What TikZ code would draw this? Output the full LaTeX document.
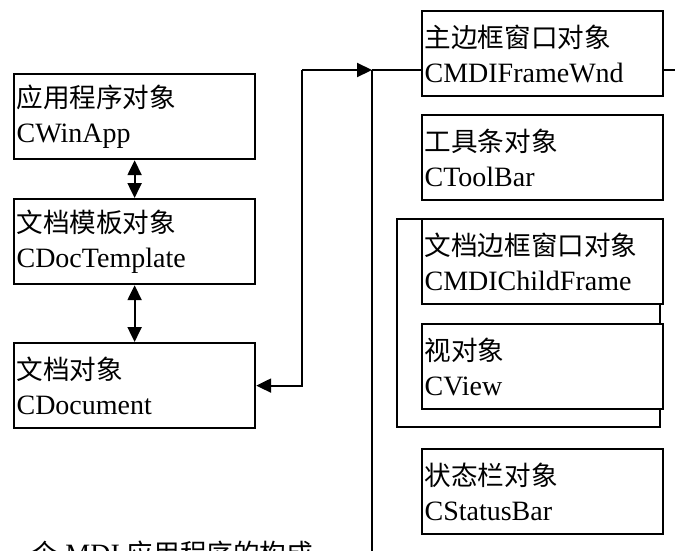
\documentclass[tikz,border=0pt]{standalone}
\usepackage{fontspec}
\setmainfont{Liberation Serif}
\newfontfamily\cjk{Noto Sans CJK SC}[Scale=0.95]
\usetikzlibrary{arrows.meta}
\tikzset{
  objbox/.style={draw, line width=2.2pt, fill=white, minimum width=241pt, minimum height=85pt,
    inner sep=0pt, text width=236pt, align=left, font=\fontsize{28}{35}\selectfont, anchor=north west},
  conn/.style={line width=2.2pt},
  tri/.style={-{Triangle[length=15pt,width=14pt]}},
  bitri/.style={{Triangle[length=15pt,width=14pt]}-{Triangle[length=15pt,width=14pt]}},
}
\begin{document}
\begin{tikzpicture}[x=1pt,y=-1pt]
\useasboundingbox (0,0) rectangle (675,550);
\clip (0,0) rectangle (675,550);
% left column
\node[objbox] (app) at (13,73) {{\cjk 应用程序对象}\\CWinApp};
\node[objbox] (tpl) at (13,198) {{\cjk 文档模板对象}\\CDocTemplate};
\node[objbox] (doc) at (13,342) {{\cjk 文档对象}\\CDocument};
% right column
\draw[line width=1.4pt] (397,219) rectangle (660,427);
\node[objbox] (frame) at (421,10) {{\cjk 主边框窗口对象}\\CMDIFrameWnd};
\node[objbox] (tool) at (421,114) {{\cjk 工具条对象}\\CToolBar};
\node[objbox] (child) at (421,218) {{\cjk 文档边框窗口对象}\\CMDIChildFrame};
\node[objbox] (view) at (421,323) {{\cjk 视对象}\\CView};
\node[objbox] (status) at (421,448) {{\cjk 状态栏对象}\\CStatusBar};
% connectors
\coordinate (j1) at (302,70);
\coordinate (bus) at (372,70);
\coordinate (busend) at (372,552);
\coordinate (rightend) at (676,70);
\draw[conn,bitri] (app.south) -- (tpl.north);
\draw[conn,bitri] (tpl.south) -- (doc.north);
\draw[conn,tri] (j1) |- (doc.east);
\draw[conn,tri] (j1) -- (bus);
\draw[conn] (bus) -- (busend);
\draw[conn] (bus) -- (bus -| frame.west);
\draw[conn] (frame.east |- bus) -- (rightend);
% caption (cut off at the bottom, as in the reference)
\node[anchor=base west, inner sep=0pt, font=\fontsize{28}{35}\selectfont] (cap) at (5,563) {{\cjk 一个} MDI {\cjk 应用程序的构成}};
\end{tikzpicture}
\end{document}
